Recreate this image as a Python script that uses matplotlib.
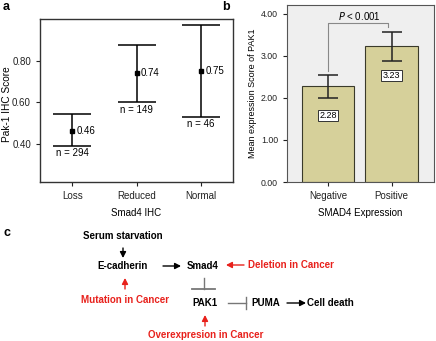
import numpy as np
import matplotlib
matplotlib.use("Agg")
import matplotlib.pyplot as plt

plt.rcParams["font.family"] = ["Liberation Sans", "DejaVu Sans"]

# panel a data
ihc_groups = ["Loss", "Reduced", "Normal"]
ihc_means = [0.46, 0.74, 0.75]
ihc_upper = [0.544, 0.874, 0.969]
ihc_lower = [0.389, 0.60, 0.529]
ihc_n = [294, 149, 46]

# panel b data
smad_groups = ["Negative", "Positive"]
pak1_means = [2.28, 3.23]
pak1_upper = [2.55, 3.57]
pak1_lower = [2.00, 2.88]
p_label = "$P$ < 0.001"

W, H = 436, 341
fig = plt.figure(figsize=(W / 100, H / 100), dpi=100)

# ---- panel a ----
ax_a = fig.add_axes([40 / W, 1 - 182 / H, 193 / W, 163 / H])
xa = np.arange(1, len(ihc_groups) + 1)
means = np.array(ihc_means)
yerr = [means - np.array(ihc_lower), np.array(ihc_upper) - means]
ax_a.errorbar(xa, means, yerr=yerr, fmt="s", color="black", ms=3.5,
              elinewidth=1.1, capsize=14, capthick=1.1)
for x, m, lo, n in zip(xa, ihc_means, ihc_lower, ihc_n):
    ax_a.text(x + 0.07, m, f"{m:.2f}", va="center", ha="left", fontsize=7)
    ax_a.text(x, lo - 0.012, f"n = {n}", va="top", ha="center", fontsize=7)
ax_a.set_xlim(0.5, 3.5)
ax_a.set_ylim(0.215, 1.0)
ax_a.set_yticks([0.40, 0.60, 0.80])
ax_a.set_yticklabels(["0.40", "0.60", "0.80"])
ax_a.set_xticks(xa)
ax_a.set_xticklabels(ihc_groups)
ax_a.tick_params(labelsize=7, length=3, width=0.8, colors="#222222")
ax_a.set_ylabel("Pak-1 IHC Score", fontsize=7.3)
ax_a.yaxis.set_label_coords(-28 / 193, 0.48)
ax_a.set_xlabel("Smad4 IHC", fontsize=7, labelpad=5)
for s in ax_a.spines.values():
    s.set_linewidth(1.0)
    s.set_color("#333333")

# ---- panel b ----
ax_b = fig.add_axes([287 / W, 1 - 182 / H, 147 / W, 177 / H])
ax_b.set_facecolor("#efefef")
xb = np.arange(len(smad_groups))
pm = np.array(pak1_means)
berr = [pm - np.array(pak1_lower), np.array(pak1_upper) - pm]
ax_b.bar(xb, pm, width=0.83, color="#d6d09a", edgecolor="#3a3a2a", linewidth=0.8)
ax_b.errorbar(xb, pm, yerr=berr, fmt="none", ecolor="#222222",
              elinewidth=1.1, capsize=7, capthick=1.1)
for x, m in zip(xb, pak1_means):
    ax_b.text(x, m - 0.7, f"{m:.2f}", ha="center", va="center", fontsize=6.5,
              bbox=dict(boxstyle="square,pad=0.15", fc="white", ec="#333333", lw=0.7))
# significance bracket
top_b = 3.78
ax_b.plot([xb[0], xb[0], xb[1] - 0.05, xb[1] - 0.05],
          [pak1_upper[0] + 0.1, top_b, top_b, top_b - 0.1],
          color="#888888", lw=0.8)
ax_b.text((xb[0] + xb[1]) / 2, 3.95, p_label, ha="center", va="center", fontsize=7)
ax_b.set_xlim(-0.65, 1.67)
ax_b.set_ylim(0, 4.21)
ax_b.set_yticks([0, 1, 2, 3, 4])
ax_b.set_yticklabels(["0.00", "1.00", "2.00", "3.00", "4.00"])
ax_b.set_xticks(xb)
ax_b.set_xticklabels(smad_groups)
ax_b.tick_params(labelsize=7, length=3, width=0.8, colors="#222222")
ax_b.tick_params(axis="y", labelsize=6.3)
ax_b.set_ylabel("Mean expression Score of PAK1", fontsize=6.5)
ax_b.yaxis.set_label_coords(-30 / 147, 0.5)
ax_b.set_xlabel("SMAD4 Expression", fontsize=7, labelpad=5)
for s in ax_b.spines.values():
    s.set_linewidth(0.8)
    s.set_color("#555555")

# panel letters
fig.text(3 / W, 1 - 7 / H, "a", fontsize=9, fontweight="bold", va="center")
fig.text(222 / W, 1 - 7 / H, "b", fontsize=9, fontweight="bold", va="center")
fig.text(3 / W, 1 - 233 / H, "c", fontsize=9, fontweight="bold", va="center")

# ---- panel c: pathway diagram ----
ax_c = fig.add_axes([0, 0, 1, 1])
ax_c.set_xlim(0, W)
ax_c.set_ylim(H, 0)
ax_c.axis("off")
RED = "#e8211c"
bold = dict(fontsize=7, fontweight="bold", ha="center", va="center")
ax_c.text(123, 236, "Serum starvation", **bold)
ax_c.text(123, 266, "E-cadherin", **bold)
ax_c.text(203, 266, "Smad4", **bold)
ax_c.text(248, 265, "Deletion in Cancer", color=RED,
          fontsize=7, fontweight="bold", ha="left", va="center")
ax_c.text(125, 300, "Mutation in Cancer", color=RED, **bold)
ax_c.text(205, 303, "PAK1", **bold)
ax_c.text(266, 303, "PUMA", **bold)
ax_c.text(330, 303, "Cell death", **bold)
ax_c.text(206, 335, "Overexpresion in Cancer", color=RED, **bold)

def arrow(x0, y0, x1, y1, color="black"):
    ax_c.annotate("", xy=(x1, y1), xytext=(x0, y0),
                  arrowprops=dict(arrowstyle="-|>,head_length=0.35,head_width=0.18",
                                  color=color, lw=1.0, shrinkA=0, shrinkB=0))

arrow(123, 248, 123, 258)
arrow(163, 266, 181, 266)
arrow(244, 265, 226, 265, RED)
arrow(125, 289, 125, 278, RED)
arrow(205, 326, 205, 315, RED)
arrow(287, 303, 306, 303)
# inhibition bars
ax_c.plot([204, 204], [278, 289], color="#777777", lw=1.0)
ax_c.plot([192, 215], [289, 289], color="#777777", lw=1.3)
ax_c.plot([228, 246], [303, 303], color="#777777", lw=1.0)
ax_c.plot([246, 246], [297, 309], color="#777777", lw=1.0)

fig.savefig("out.png", dpi=100)
